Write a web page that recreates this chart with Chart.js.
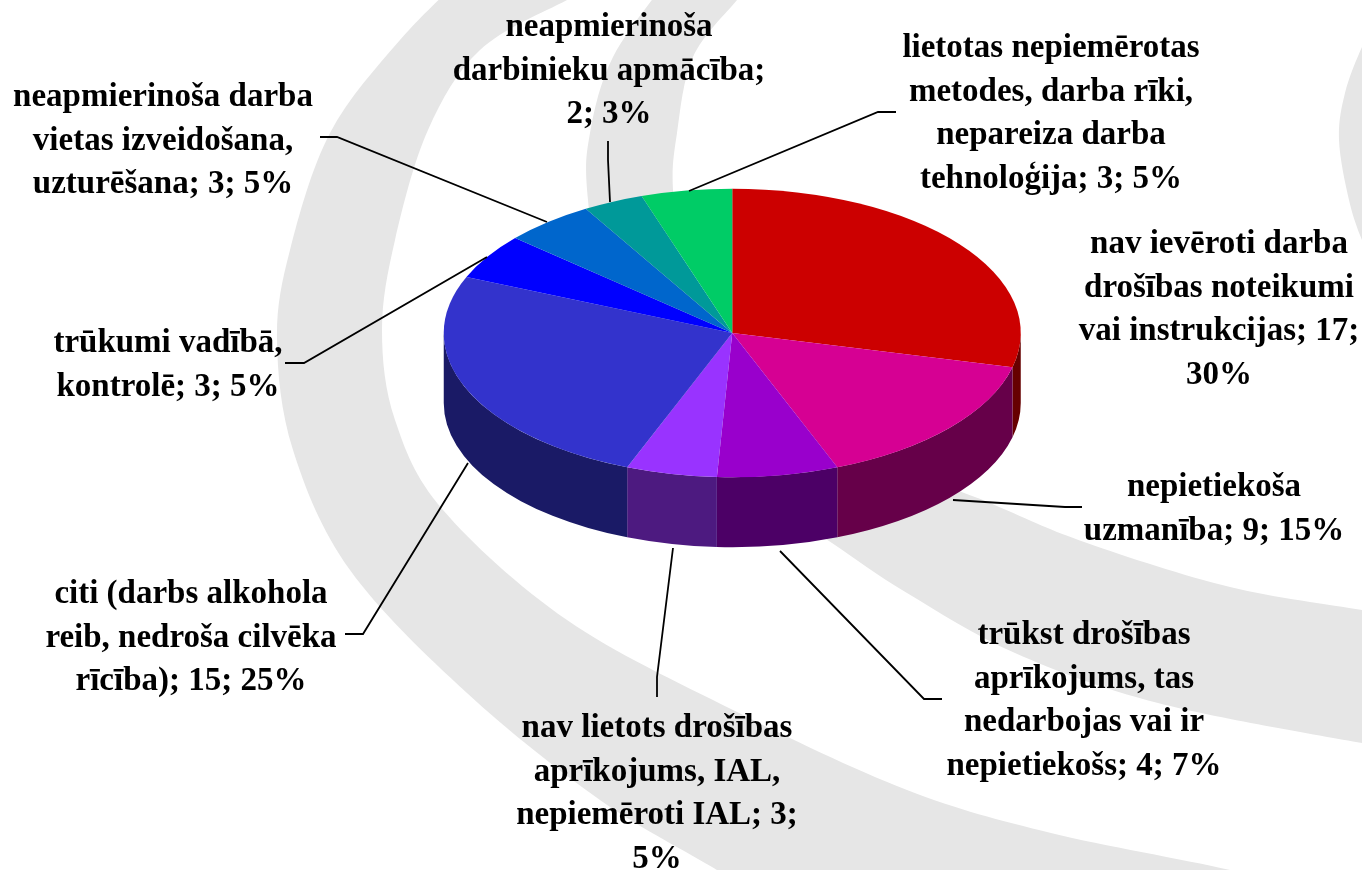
<!DOCTYPE html>
<html>
<head>
<meta charset="utf-8">
<title>Cēloņi</title>
<script src="https://cdn.jsdelivr.net/npm/chart.js@4"></script>
<style>
  html, body { margin: 0; padding: 0; background: #fff; overflow: hidden; }
  #pie-3d { display: block; }
</style>
</head>
<body>
<canvas id="pie-3d" width="1362" height="870"></canvas>
<script>
const categories = [
  "nav ievēroti darba drošības noteikumi vai instrukcijas",
  "nepietiekoša uzmanība",
  "trūkst drošības aprīkojums, tas nedarbojas vai ir nepietiekošs",
  "nav lietots drošības aprīkojums, IAL, nepiemēroti IAL",
  "citi (darbs alkohola reib, nedroša cilvēka rīcība)",
  "trūkumi vadībā, kontrolē",
  "neapmierinoša darba vietas izveidošana, uzturēšana",
  "neapmierinoša darbinieku apmācība",
  "lietotas nepiemērotas metodes, darba rīki, nepareiza darba tehnoloģija",
];
const counts = [17, 9, 4, 3, 15, 3, 3, 2, 3];
const labelLines = [
  ["nav ievēroti darba", "drošības noteikumi", "vai instrukcijas; 17;", "30%"],
  ["nepietiekoša", "uzmanība; 9; 15%"],
  ["trūkst drošības", "aprīkojums, tas", "nedarbojas vai ir", "nepietiekošs; 4; 7%"],
  ["nav lietots drošības", "aprīkojums, IAL,", "nepiemēroti IAL; 3;", "5%"],
  ["citi (darbs alkohola", "reib, nedroša cilvēka", "rīcība); 15; 25%"],
  ["trūkumi vadībā,", "kontrolē; 3; 5%"],
  ["neapmierinoša darba", "vietas izveidošana,", "uzturēšana; 3; 5%"],
  ["neapmierinoša", "darbinieku apmācība;", "2; 3%"],
  ["lietotas nepiemērotas", "metodes, darba rīki,", "nepareiza darba", "tehnoloģija; 3; 5%"],
];
const sliceColors = ["#CC0000", "#D60093", "#9900CC", "#9933FF", "#3333CC", "#0000FF", "#0066CC", "#009999", "#00CC66"];
const wallColors = ["#660000", "#660049", "#4C0066", "#4D1A80", "#1A1A66", "#000080", "#003366", "#004D4D", "#006633"];

// where the text blocks sit: centre x, first baseline
const labelPos = [
  [1219, 253], [1214, 496], [1084, 644], [657, 737], [191, 603],
  [168, 352], [163, 106], [609, 36], [1051, 57],
];
const leaderLines = [
  null,
  [[1082, 507], [1065, 507], [953, 500]],
  [[942, 699], [924, 699], [780, 551]],
  [[657, 697], [657, 677], [673, 548]],
  [[345, 634], [363, 634], [468, 463]],
  [[285, 363], [304, 363], [487, 257]],
  [[320, 137], [337, 137], [547, 222]],
  [[608, 141], [608, 160], [610, 202]],
  [[896, 112], [878, 112], [689, 191]],
];

const SQUASH = 0.5;
const DEPTH = 70;
const LINE_H = 43.5;

// grey swooshes behind the chart, each one is two edges
const bands = [
  [
    [[470, -30], [400, 40], [330, 133], [290, 250], [277, 340], [293, 450],
     [350, 570], [467, 693], [600, 800], [717, 870], [760, 900]],
    [[1340, 900], [1230, 870], [1051, 833], [907, 790], [733, 710], [567, 620],
     [443, 510], [395, 420], [382, 330], [395, 240], [428, 130], [480, 50], [567, 0], [620, -25]],
  ],
  [
    [[667, -20], [613, 57], [590, 133], [588, 200], [610, 340], [690, 440], [770, 500],
     [832, 543], [907, 593], [1015, 653], [1158, 703], [1362, 743], [1420, 750]],
    [[1420, 620], [1362, 610], [1230, 587], [1087, 543], [990, 503], [800, 420], [685, 270], [673, 190],
     [677, 133], [693, 57], [737, 0], [755, -20]],
  ],
  [
    [[1378, 20], [1362, 47], [1345, 93], [1339, 140], [1349, 200], [1362, 240], [1378, 270]],
    [[1400, 270], [1400, 20]],
  ],
];

const smoothPath = (ctx, pts) => {
  ctx.lineTo(pts[0][0], pts[0][1]);
  for (let i = 0; i < pts.length - 1; i++) {
    const p0 = pts[Math.max(i - 1, 0)];
    const p1 = pts[i];
    const p2 = pts[i + 1];
    const p3 = pts[Math.min(i + 2, pts.length - 1)];
    ctx.bezierCurveTo(
      p1[0] + (p2[0] - p0[0]) / 6, p1[1] + (p2[1] - p0[1]) / 6,
      p2[0] - (p3[0] - p1[0]) / 6, p2[1] - (p3[1] - p1[1]) / 6,
      p2[0], p2[1]
    );
  }
};

const pie3d = {
  id: "pie3d",
  beforeDraw: (chart) => {
    const ctx = chart.ctx;
    ctx.save();
    ctx.fillStyle = "#fff";
    ctx.fillRect(0, 0, chart.width, chart.height);
    ctx.fillStyle = "#E6E6E6";
    bands.forEach((edges) => {
      ctx.beginPath();
      edges.forEach((edge) => smoothPath(ctx, edge));
      ctx.closePath();
      ctx.fill();
    });
    ctx.restore();
  },
  beforeDatasetsDraw: (chart) => {
    const ctx = chart.ctx;
    const arcs = chart.getDatasetMeta(0).data;
    const cx = arcs[0].x;
    const cy = arcs[0].y;
    const rx = arcs[0].outerRadius;
    const ry = rx * SQUASH;
    // side wall, only the front half can be seen
    arcs.forEach((arc, i) => {
      const a = Math.max(arc.startAngle, 0);
      const b = Math.min(arc.endAngle, Math.PI);
      if (b <= a) return;
      ctx.beginPath();
      ctx.ellipse(cx, cy, rx, ry, 0, a, b);
      ctx.ellipse(cx, cy + DEPTH, rx, ry, 0, b, a, true);
      ctx.closePath();
      ctx.fillStyle = wallColors[i];
      ctx.fill();
    });
    ctx.save();
    ctx.translate(0, cy);
    ctx.scale(1, SQUASH);
    ctx.translate(0, -cy);
  },
  afterDatasetsDraw: (chart) => {
    const ctx = chart.ctx;
    ctx.restore();
    ctx.strokeStyle = "#000";
    ctx.lineWidth = 1.8;
    leaderLines.forEach((pts) => {
      if (!pts) return;
      ctx.beginPath();
      pts.forEach((p, i) => (i ? ctx.lineTo(p[0], p[1]) : ctx.moveTo(p[0], p[1])));
      ctx.stroke();
    });
    ctx.fillStyle = "#000";
    ctx.font = "bold 33px 'Liberation Serif'";
    ctx.textAlign = "center";
    ctx.textBaseline = "alphabetic";
    labelLines.forEach((lines, i) => {
      lines.forEach((line, j) => {
        ctx.fillText(line, labelPos[i][0], labelPos[i][1] + j * LINE_H);
      });
    });
  },
};

new Chart(document.querySelector("#pie-3d"), {
  type: "pie",
  data: {
    labels: categories,
    datasets: [
      {
        data: counts,
        backgroundColor: sliceColors,
        borderWidth: 0,
      },
    ],
  },
  options: {
    responsive: false,
    animation: false,
    layout: {
      padding: { left: 443.5, right: 341, top: 44.5, bottom: 248.5 },
    },
    plugins: {
      legend: { display: false },
      tooltip: { enabled: false },
    },
  },
  plugins: [pie3d],
});
</script>
</body>
</html>
